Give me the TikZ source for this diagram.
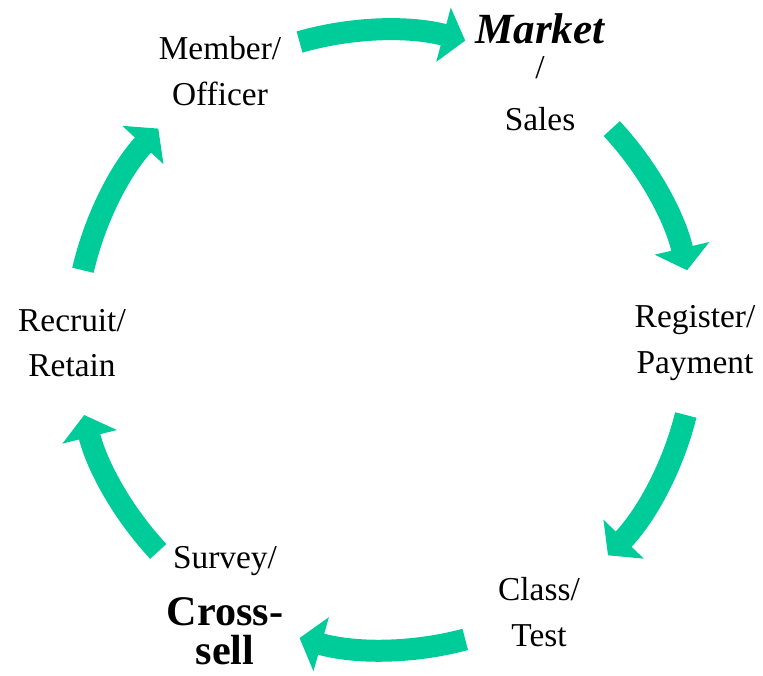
\documentclass[tikz,border=0pt]{standalone}
\usepackage{fontspec}
\setmainfont{Liberation Serif}
\usetikzlibrary{arrows.meta,calc}
\definecolor{cyclegreen}{RGB}{0,204,153}

\begin{document}
\begin{tikzpicture}
				\tikzset{stage/.style={align=center,inner sep=0pt,font=\fontsize{19}{26}\selectfont},
					flow/.style={draw=cyclegreen,line width=4.4mm,-{Triangle[length=4.5mm,width=11mm]}}}
				\useasboundingbox (0,0) rectangle (15.26,13.5);
				\coordinate (c) at (7.7,6.7);
				% the six stages round the cycle
				\node [stage] (member) at (4.4,12.08) {Member/\\Officer};
				\node [stage] (market) at (10.8,12.06) {{\fontsize{24.5}{26}\selectfont\bfseries\itshape Market}\\[-5.7pt]/\\[3.3pt]Sales};
				\node [stage] (register) at (13.9,6.64) {Register/\\Payment};
				\node [stage] (class) at (10.78,1.26) {Class/\\Test};
				\node [stage] (survey) at (4.5,1.38) {Survey/\\[6pt]{\fontsize{24}{26}\selectfont\bfseries Cross-}\\[-3.4pt]{\fontsize{24}{26}\selectfont\bfseries sell}};
				\node [stage] (recruit) at (1.44,6.64) {Recruit/\\Retain};
				% where each arrow starts on the ring
				\coordinate (f1) at ($(c)+(106:6.2)$);
				\coordinate (f2) at ($(c)+(43:6.2)$);
				\coordinate (f3) at ($(c)+(-14:6.2)$);
				\coordinate (f4) at ($(c)+(-75:6.2)$);
				\coordinate (f5) at ($(c)+(-137:6.2)$);
				\coordinate (f6) at ($(c)+(167:6.2)$);
				\draw [flow] (f1) arc [start angle=106,end angle=75,radius=6.2];
				\draw [flow] (f2) arc [start angle=43,end angle=13,radius=6.2];
				\draw [flow] (f3) arc [start angle=-14,end angle=-44,radius=6.2];
				\draw [flow] (f4) arc [start angle=-75,end angle=-106,radius=6.2];
				\draw [flow] (f5) arc [start angle=-137,end angle=-166,radius=6.2];
				\draw [flow] (f6) arc [start angle=167,end angle=137,radius=6.2];
			\end{tikzpicture}
\end{document}
